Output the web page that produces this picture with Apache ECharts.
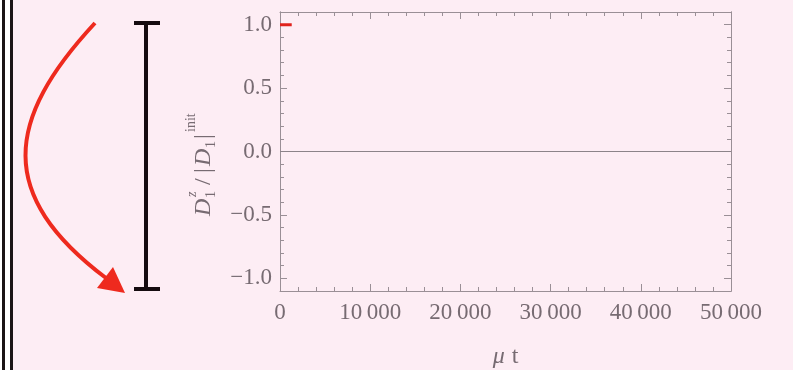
<!DOCTYPE html>
<html>
<head>
<meta charset="utf-8">
<script src="https://cdn.jsdelivr.net/npm/echarts@6/dist/echarts.min.js"></script>
<style>
html,body{margin:0;padding:0;background:#fdedf4;}
#c{width:793px;height:370px;}
</style>
</head>
<body>
<div id="c"></div>
<script>
// ---- data ----
const seriesX = [0, 1300];
const seriesY = [1.0, 1.0];
const zeroLineY = 0;
const xTicks = [0, 10000, 20000, 30000, 40000, 50000];
const yMajorTicks = [-1.0, -0.5, 0.0, 0.5, 1.0];
const yMinorTicks = [-1.1, -0.9, -0.8, -0.7, -0.6, -0.4, -0.3, -0.2, -0.1, 0.1, 0.2, 0.3, 0.4, 0.6, 0.7, 0.8, 0.9, 1.1];
const xLabelText = ['0', '10\u2009000', '20\u2009000', '30\u2009000', '40\u2009000', '50\u2009000'];
const yLabelText = ['\u22121.0', '\u22120.5', '0.0', '0.5', '1.0'];

const axisCol = '#9a8f96';
const labCol = '#776b72';
const serif = '"Liberation Serif","DejaVu Serif",serif';

const chart = echarts.init(document.getElementById('c'), null, {renderer: 'canvas'});

function yAx(pos, ticks, len, labels) {
  return {
    type: 'value', position: pos, min: -1.1, max: 1.1,
    axisLine: {show: true, lineStyle: {color: axisCol, width: 1}},
    axisTick: {show: true, inside: true, length: len, customValues: ticks, lineStyle: {color: axisCol}},
    axisLabel: labels ? {
      show: true, customValues: yMajorTicks, margin: 8,
      fontFamily: serif, fontSize: 23, color: labCol,
      formatter: v => yLabelText[yMajorTicks.findIndex(t => Math.abs(t - v) < 1e-6)] || ''
    } : {show: false},
    splitLine: {show: false}
  };
}
function xAx(pos, labels) {
  return {
    type: 'value', position: pos, min: xTicks[0], max: xTicks[xTicks.length - 1], interval: 10000,
    axisLine: {show: true, onZero: false, lineStyle: {color: axisCol, width: 1}},
    axisTick: {show: true, inside: true, length: 7, lineStyle: {color: axisCol}},
    minorTick: {show: true, splitNumber: 5, length: 4, lineStyle: {color: axisCol}},
    axisLabel: labels ? {
      show: true, margin: 10, fontFamily: serif, fontSize: 23, color: labCol,
      formatter: v => xLabelText[xTicks.indexOf(v)] || ''
    } : {show: false},
    splitLine: {show: false},
    name: labels ? '{m|\u03bc}{s| }{t|t}' : '',
    nameLocation: 'middle', nameGap: 54,
    nameTextStyle: {rich: {
      m: {fontFamily: serif, fontStyle: 'italic', fontSize: 24, color: labCol},
      s: {fontFamily: serif, fontSize: 24, width: 7},
      t: {fontFamily: serif, fontSize: 24, color: labCol}
    }}
  };
}

const tSmall = 14, tBig = 24;
// x along the text direction, b = baseline offset (negative = raised)
function txt(x, b, s, size, italic) {
  return {type: 'text', x: x, y: b + 0.22 * size, style: {text: s, fontFamily: serif, fontSize: size,
    fontStyle: italic ? 'italic' : 'normal', fill: labCol, verticalAlign: 'bottom', align: 'left'}};
}

chart.setOption({
  backgroundColor: '#fdedf4',
  animation: false,
  grid: {left: 280, right: 62, top: 12, bottom: 79, containLabel: false, outerBoundsMode: 'none'},
  xAxis: [xAx('bottom', true), xAx('top', false)],
  yAxis: [yAx('left', yMajorTicks, 7, true), yAx('left', yMinorTicks, 4, false),
          yAx('right', yMajorTicks, 7, false), yAx('right', yMinorTicks, 4, false)],
  series: [{
    type: 'line', xAxisIndex: 0, yAxisIndex: 0,
    data: seriesX.map((x, i) => [x, seriesY[i]]),
    showSymbol: false, symbol: 'none',
    lineStyle: {color: '#e0221c', width: 3},
    silent: true, z: 5,
    markLine: {silent: true, symbol: ['none', 'none'], label: {show: false},
      lineStyle: {color: '#8c8389', width: 1, type: 'solid'},
      data: [{yAxis: zeroLineY}]}
  }],
  graphic: [
    // left double border
    {type: 'rect', shape: {x: 0, y: 0, width: 13, height: 370}, style: {fill: '#ffffff'}},
    {type: 'rect', shape: {x: 2, y: 0, width: 3, height: 370}, style: {fill: '#1b1416'}},
    {type: 'rect', shape: {x: 10, y: 0, width: 3, height: 370}, style: {fill: '#1b1416'}},
    // I-bar
    {type: 'rect', shape: {x: 144, y: 22, width: 4, height: 268}, style: {fill: '#150b0f'}},
    {type: 'rect', shape: {x: 134, y: 21, width: 26, height: 4}, style: {fill: '#150b0f'}},
    {type: 'rect', shape: {x: 134, y: 287, width: 26, height: 4}, style: {fill: '#150b0f'}},
    // red curved arrow
    {type: 'bezierCurve', shape: {x1: 95, y1: 23, cpx1: 5, cpy1: 120, cpx2: -4, cpy2: 195, x2: 106, y2: 278},
      style: {stroke: '#ee2a1e', lineWidth: 4, fill: null}},
    {type: 'polygon', shape: {points: [[113, 267], [97, 288], [125, 293]]}, style: {fill: '#ee2a1e'}},
    // y-axis title, rotated
    {type: 'group', x: 210, y: 216, rotation: Math.PI / 2, children: [
      txt(0, 0, 'D', tBig, true),
      txt(19, -14, 'z', tSmall, true),
      txt(18, 5, '1', tSmall, false),
      txt(31, 0, '/', tBig, false),
      txt(43, 0, '|', tBig, false),
      txt(50, 0, 'D', tBig, true),
      txt(68, 5, '1', tSmall, false),
      txt(77, 0, '|', tBig, false),
      txt(84, -15, 'init', tSmall, false)
    ]}
  ]
});
</script>
</body>
</html>
